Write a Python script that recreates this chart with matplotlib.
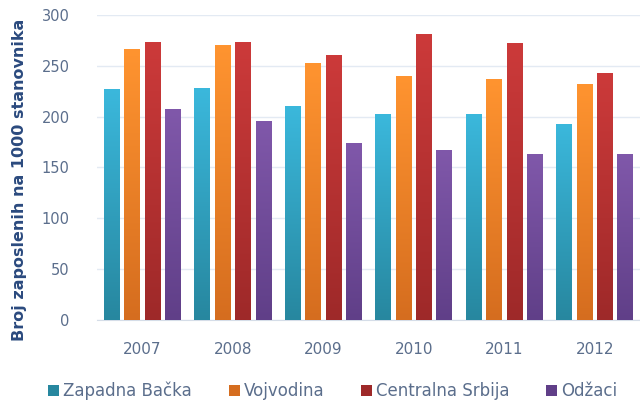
import numpy as np
import matplotlib.pyplot as plt
from matplotlib.colors import LinearSegmentedColormap
from matplotlib.patches import Patch

years = ["2007", "2008", "2009", "2010", "2011", "2012"]
series_names = ["Zapadna Bačka", "Vojvodina", "Centralna Srbija", "Odžaci"]
zapadna_backa = [227, 228, 210, 202, 202, 192]
vojvodina = [266, 270, 253, 240, 237, 232]
centralna_srbija = [273, 273, 260, 281, 272, 243]
odzaci = [207, 195, 174, 167, 163, 163]

# (top colour, bottom colour) for the gradient of each series
gradients = [("#3bb8dc", "#27879f"),
             ("#ff9430", "#d56d1f"),
             ("#cc3a3a", "#9e2929"),
             ("#8058aa", "#603f88")]

text_col = "#5b6e8c"
label_col = "#2b4a7e"

fig = plt.figure(figsize=(6.4, 4.09), dpi=100)
ax = fig.add_axes([0.152, 0.218, 0.848, 0.745])

all_values = [zapadna_backa, vojvodina, centralna_srbija, odzaci]
x = np.arange(len(years))
step = 0.225
width = 0.176
grad = np.linspace(1, 0, 256).reshape(-1, 1)

for i, vals in enumerate(all_values):
    cmap = LinearSegmentedColormap.from_list("g%d" % i, [gradients[i][1], gradients[i][0]])
    offs = (i - 1.5) * step
    for xi, v in zip(x, vals):
        x0 = xi + offs - width / 2
        ax.imshow(grad, extent=[x0, x0 + width, 0, v], aspect="auto",
                  cmap=cmap, vmin=0, vmax=1, zorder=3, interpolation="bilinear")

ax.set_xlim(-0.5, len(years) - 0.5)
ax.set_ylim(0, 300)
ax.set_yticks(range(0, 301, 50))
ax.set_xticks(x)
ax.set_xticklabels(years)
ax.grid(axis="y", color="#e3eaf3", linewidth=1, zorder=0)
for s in ["top", "right", "left"]:
    ax.spines[s].set_visible(False)
ax.spines["bottom"].set_color("#d5dde8")
ax.tick_params(length=0, colors=text_col, labelsize=11)
ax.tick_params(axis="x", pad=16)
ax.tick_params(axis="y", pad=20, labelsize=10.5)
ax.set_ylabel("Broj zaposlenih na 1000 stanovnika", color=label_col,
              fontsize=11.5, fontweight="bold")
ax.yaxis.set_label_coords(-0.13, 0.46)

handles = [Patch(facecolor=gradients[i][1], edgecolor="none") for i in range(4)]
fig.legend(handles, series_names, loc="lower center", bbox_to_anchor=(0.52, -0.015),
           ncol=4, frameon=False, fontsize=12, handlelength=0.65, handleheight=0.65,
           handletextpad=0.25, columnspacing=2.2, labelcolor=text_col)

fig.savefig("out.png", dpi=100)
